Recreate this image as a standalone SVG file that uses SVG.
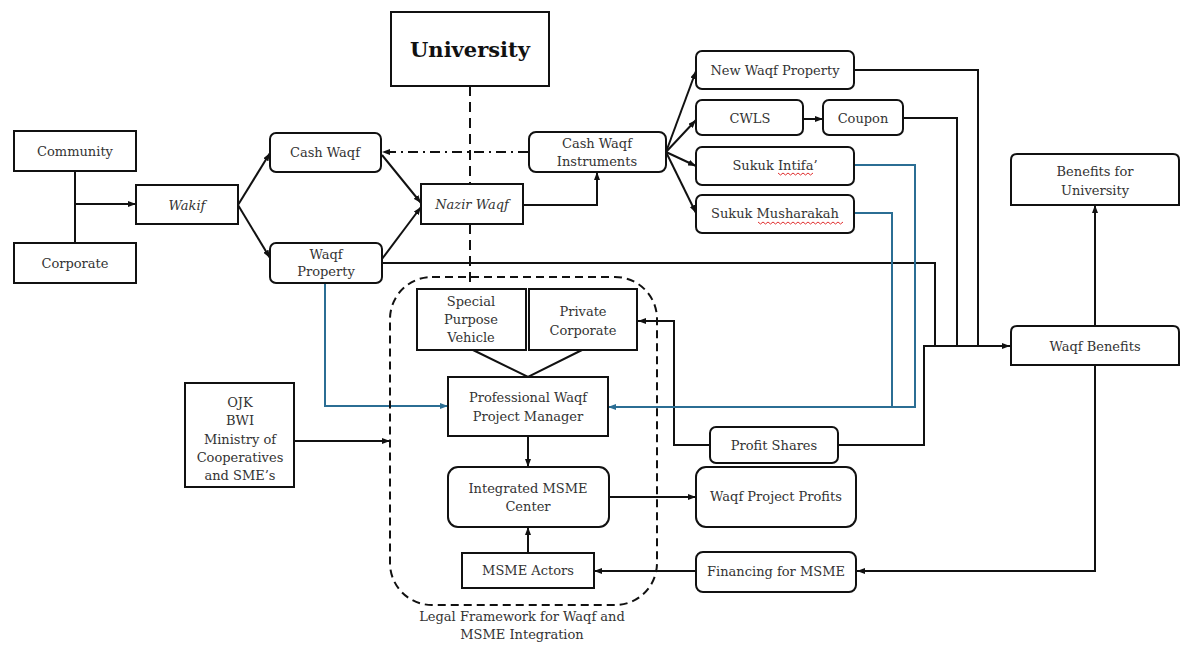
<svg xmlns="http://www.w3.org/2000/svg" width="1180" height="645" viewBox="0 0 1180 645">
<defs>
<style>
.box{fill:#fff;stroke:#111;stroke-width:2}
.t{font-family:"DejaVu Serif","Liberation Serif",serif;font-size:13px;fill:#333;text-anchor:middle}
.it{font-style:italic}
.big{font-family:"DejaVu Serif","Liberation Serif",serif;font-size:21px;font-weight:bold;fill:#111;text-anchor:middle}
.ln{fill:none;stroke:#111;stroke-width:2}
.bl{fill:none;stroke:#2b6e94;stroke-width:2}
.arr{marker-end:url(#ah)}
.barr{marker-end:url(#ahb)}
.wave{fill:none;stroke:#e03030;stroke-width:1}
</style>
<marker id="ah" viewBox="0 0 8 6" refX="8" refY="3" markerWidth="8" markerHeight="6" markerUnits="userSpaceOnUse" orient="auto"><path d="M0,0 L8,3 L0,6 z" fill="#111"/></marker>
<marker id="ahb" viewBox="0 0 8 6" refX="8" refY="3" markerWidth="8" markerHeight="6" markerUnits="userSpaceOnUse" orient="auto"><path d="M0,0 L8,3 L0,6 z" fill="#2b6e94"/></marker>
</defs>
<rect width="1180" height="645" fill="#fff"/>

<g id="connectors">
<path class="ln" d="M75,171 V243"/>
<path class="ln arr" d="M75,204 H136"/>
<path class="ln arr" d="M238,205 L270,153"/>
<path class="ln arr" d="M238,205 L270,258"/>
<path class="ln arr" d="M382,155 L421,203"/>
<path class="ln arr" d="M382,259 L421,207"/>
<path class="ln arr" d="M528,152 H382" stroke-dasharray="10 5 2 5"/>
<path class="ln" d="M470,86 V184" stroke-dasharray="10 6"/>
<path class="ln" d="M470,224 V289" stroke-dasharray="10 6"/>
<path class="ln arr" d="M523,205 H597 V172"/>
<path class="ln arr" d="M666,152 L696,71"/>
<path class="ln arr" d="M666,152 L696,120"/>
<path class="ln arr" d="M666,152 L696,166"/>
<path class="ln arr" d="M666,152 L696,213"/>
<path class="ln arr" d="M803,119 H823"/>
<path class="ln" d="M854,70 H978 V346"/>
<path class="ln" d="M903,118 H957 V346"/>
<path class="ln" d="M382,263 H935 V346"/>
<path class="ln arr" d="M838,445 H924 V346 H1010"/>
<path class="ln arr" d="M1095,326 V205"/>
<path class="ln arr" d="M1095,365 V571 H857"/>
<path class="ln arr" d="M696,571 H594"/>
<path class="ln arr" d="M528,553 V527"/>
<path class="ln arr" d="M609,497 H696"/>
<path class="ln arr" d="M528,436 V467"/>
<path class="ln" d="M473,350 L528,377 L582,350"/>
<path class="ln arr" d="M710,445 H674 V321 H638"/>
<path class="bl barr" d="M325,283 V406 H448"/>
<path class="bl barr" d="M854,165 H915 V407 H608"/>
<path class="bl" d="M854,213 H892 V407"/>
<path class="ln arr" d="M294,441 H390"/>
</g>

<g id="legal-framework">
<rect x="390" y="277" width="267" height="328" rx="42" fill="none" stroke="#111" stroke-width="2" stroke-dasharray="8 5"/>
<text class="t" x="522" y="621">Legal Framework for Waqf and</text>
<text class="t" x="522" y="639">MSME Integration</text>
</g>

<g id="community"><rect class="box" x="14" y="131" width="122" height="40"/><text class="t" x="75" y="156">Community</text></g>
<g id="corporate"><rect class="box" x="14" y="243" width="122" height="40"/><text class="t" x="75" y="268">Corporate</text></g>
<g id="wakif"><rect class="box" x="136" y="185" width="102" height="39"/><text class="t it" x="187" y="210">Wakif</text></g>
<g id="cash-waqf"><rect class="box" x="270" y="133" width="111" height="39" rx="6"/><text class="t" x="325" y="157">Cash Waqf</text></g>
<g id="waqf-property"><rect class="box" x="270" y="243" width="112" height="40" rx="6"/><text class="t" x="326" y="259">Waqf</text><text class="t" x="326" y="276">Property</text></g>
<g id="university"><rect class="box" x="391" y="12" width="158" height="74"/><text class="big" x="470" y="57">University</text></g>
<g id="nazir-waqf"><rect class="box" x="421" y="184" width="102" height="40"/><text class="t it" x="472" y="209">Nazir Waqf</text></g>
<g id="cash-waqf-instruments"><rect class="box" x="529" y="132" width="137" height="40" rx="7"/><text class="t" x="597" y="148">Cash Waqf</text><text class="t" x="597" y="166">Instruments</text></g>
<g id="new-waqf-property"><rect class="box" x="696" y="51" width="158" height="38" rx="6"/><text class="t" x="775" y="75">New Waqf Property</text></g>
<g id="cwls"><rect class="box" x="696" y="100" width="107" height="35" rx="6"/><text class="t" x="750" y="123">CWLS</text></g>
<g id="coupon"><rect class="box" x="823" y="100" width="80" height="35" rx="6"/><text class="t" x="863" y="123">Coupon</text></g>
<g id="sukuk-intifa"><rect class="box" x="696" y="147" width="158" height="38" rx="6"/><text class="t" x="775" y="170">Sukuk Intifa’</text><path class="wave" d="M778,173 l2.5,2 l2.5,-2 l2.5,2 l2.5,-2 l2.5,2 l2.5,-2 l2.5,2 l2.5,-2 l2.5,2 l2.5,-2 l2.5,2 l2.5,-2 l2.5,2 l2.5,-2"/></g>
<g id="sukuk-musharakah"><rect class="box" x="696" y="195" width="158" height="38" rx="6"/><text class="t" x="775" y="218">Sukuk Musharakah</text><path class="wave" d="M758,222 l2.5,2 l2.5,-2 l2.5,2 l2.5,-2 l2.5,2 l2.5,-2 l2.5,2 l2.5,-2 l2.5,2 l2.5,-2 l2.5,2 l2.5,-2 l2.5,2 l2.5,-2 l2.5,2 l2.5,-2 l2.5,2 l2.5,-2 l2.5,2 l2.5,-2 l2.5,2 l2.5,-2 l2.5,2 l2.5,-2 l2.5,2 l2.5,-2 l2.5,2 l2.5,-2 l2.5,2 l2.5,-2 l2.5,2 l2.5,-2 l2.5,2 l2.5,-2"/></g>
<g id="benefits-for-university"><path class="box" d="M1011,205 V160 Q1011,154 1017,154 H1173 Q1179,154 1179,160 V205 Z"/><text class="t" x="1095" y="176">Benefits for</text><text class="t" x="1095" y="195">University</text></g>
<g id="waqf-benefits"><path class="box" d="M1011,365 V332 Q1011,326 1017,326 H1173 Q1179,326 1179,332 V365 Z"/><text class="t" x="1095" y="351">Waqf Benefits</text></g>
<g id="special-purpose-vehicle"><rect class="box" x="417" y="289" width="109" height="61"/><text class="t" x="471" y="306">Special</text><text class="t" x="471" y="324">Purpose</text><text class="t" x="471" y="342">Vehicle</text></g>
<g id="private-corporate"><rect class="box" x="529" y="289" width="108" height="61"/><text class="t" x="583" y="316">Private</text><text class="t" x="583" y="335">Corporate</text></g>
<g id="professional-waqf-project-manager"><rect class="box" x="448" y="377" width="160" height="59"/><text class="t" x="528" y="402">Professional Waqf</text><text class="t" x="528" y="421">Project Manager</text></g>
<g id="ojk"><rect class="box" x="185" y="383" width="109" height="104"/><text class="t" x="240" y="407">OJK</text><text class="t" x="240" y="425">BWI</text><text class="t" x="240" y="444">Ministry of</text><text class="t" x="240" y="462">Cooperatives</text><text class="t" x="240" y="480">and SME’s</text></g>
<g id="profit-shares"><rect class="box" x="710" y="427" width="128" height="36" rx="6"/><text class="t" x="774" y="450">Profit Shares</text></g>
<g id="integrated-msme-center"><rect class="box" x="448" y="467" width="161" height="60" rx="10"/><text class="t" x="528" y="493">Integrated MSME</text><text class="t" x="528" y="511">Center</text></g>
<g id="waqf-project-profits"><rect class="box" x="696" y="467" width="160" height="60" rx="10"/><text class="t" x="776" y="501">Waqf Project Profits</text></g>
<g id="msme-actors"><rect class="box" x="462" y="553" width="132" height="35"/><text class="t" x="528" y="575">MSME Actors</text></g>
<g id="financing-for-msme"><rect class="box" x="696" y="552" width="160" height="40" rx="7"/><text class="t" x="776" y="576">Financing for MSME</text></g>
</svg>
